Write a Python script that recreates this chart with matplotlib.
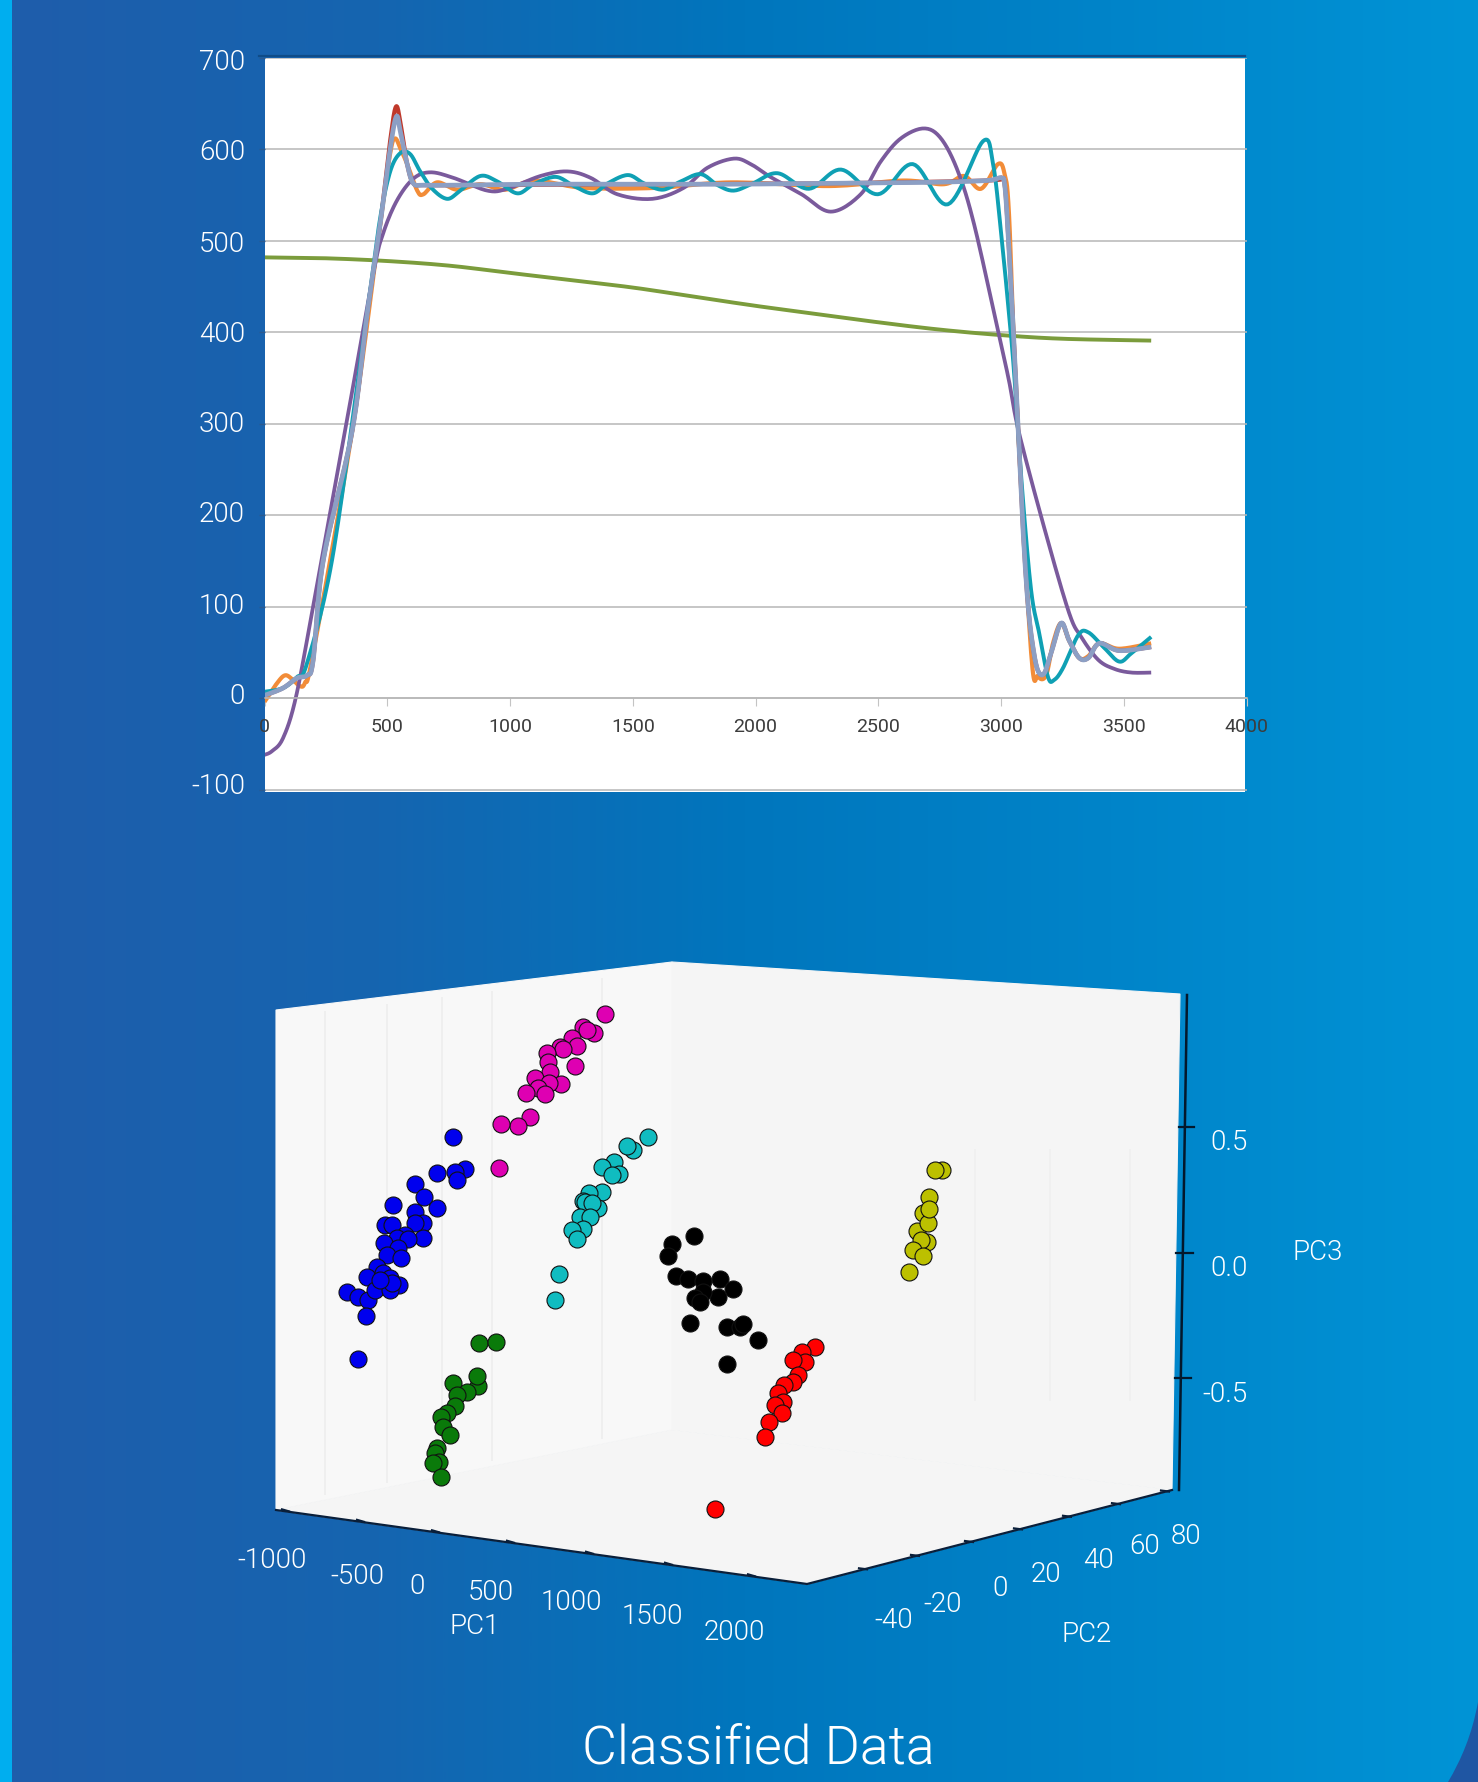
#!/usr/bin/env python3
"""Poster panel: smoothed response curves above a classified PCA scatter."""

import numpy as np
import matplotlib
matplotlib.use('Agg')
import matplotlib.pyplot as plt
from matplotlib.colors import LinearSegmentedColormap
from matplotlib.patches import PathPatch, Polygon, Rectangle
from matplotlib.path import Path

W, H = 1478, 1782

plt.rcParams['font.family'] = ['Roboto', 'Liberation Sans', 'DejaVu Sans']
plt.rcParams['axes.unicode_minus'] = False

# top chart
green_x = [0, 250, 500, 750, 1000, 1250, 1500, 1750, 2000, 2250, 2500, 2750, 3000, 3250, 3611]
green_y = [482, 481, 478, 473, 465, 457, 449, 439, 429, 420, 411, 403, 397, 393, 391]

purple_x = [0, 30, 75, 127, 198, 328, 443, 483, 539, 606, 675, 769, 907, 989, 1124, 1233, 1328, 1437,
            1580, 1707, 1804, 1911, 1980, 2060, 2187, 2306, 2428, 2510, 2591, 2685, 2755, 2824, 2890,
            2987, 3032, 3073, 3183, 3277, 3326, 3395, 3461, 3530, 3611]
purple_y = [-62, -58, -44, 0, 100, 292, 464, 508, 544, 568, 575, 569, 555, 557, 571, 576, 569, 551,
            546, 558, 580, 590, 584, 570, 551, 532, 551, 587, 612, 623, 612, 576, 518,
            402, 347, 290, 179, 93, 67, 42, 32, 28, 28]

steel_x = [0, 75, 132, 173, 198, 239, 357, 418, 471, 512, 537, 553, 581, 606, 650, 800, 1100, 1500, 1900,
           2300, 2700, 2940, 2999, 3015, 3030, 3050, 3070, 3090, 3110, 3130, 3150, 3175, 3203, 3244, 3277,
           3318, 3355, 3400, 3481, 3611]
steel_y = [3, 11, 22, 25, 41, 150, 292, 420, 518, 601, 636, 620, 584, 563, 561, 561, 562, 562, 562,
           563, 564, 566, 569, 560, 500, 400, 290, 180, 100, 55, 30, 27, 49, 82, 63,
           44, 44, 60, 52, 56]

orange_x = [0, 50, 84, 116, 145, 165, 198, 357, 471, 512, 532, 555, 581, 622, 647, 703, 785, 879, 980,
            1100, 1300, 1600, 1900, 2300, 2600, 2767, 2849, 2918, 2987, 3014, 3032, 3060, 3122, 3150,
            3183, 3211, 3244, 3277, 3318, 3355, 3400, 3481, 3611]
orange_y = [-4, 16, 25, 20, 13, 17, 49, 292, 518, 596, 612, 600, 584, 555, 551, 564, 556, 562, 556,
            566, 558, 558, 564, 560, 566, 562, 571, 557, 584, 573, 529, 340, 50, 24,
            25, 60, 82, 63, 44, 46, 60, 54, 60]

# red is almost entirely under the steel line, only its tip shows
red_x = [0, 75, 132, 173, 198, 239, 357, 418, 471, 512, 536, 556, 581, 606, 650, 800, 1500, 2300, 2940, 2999, 3015,
         3030, 3050, 3070, 3090, 3110, 3130, 3150, 3175, 3203, 3244, 3277, 3318, 3355, 3400, 3481, 3611]
red_y = [3, 11, 22, 25, 41, 150, 292, 420, 518, 610, 647, 625, 584, 563, 561, 561, 562, 563, 566, 569, 560,
         500, 400, 290, 180, 100, 55, 30, 27, 49, 82, 63, 44, 44, 60, 52, 56]

teal_x = [0, 75, 132, 173, 275, 389, 430, 471, 512, 553, 593, 634, 683, 744, 797, 879, 948, 1030, 1096,
          1186, 1260, 1337, 1398, 1480, 1545, 1622, 1695, 1776, 1845, 1911, 1990, 2090, 2217, 2348,
          2498, 2640, 2783, 2926, 2967, 2999, 3032, 3053, 3085, 3122, 3155, 3191, 3216, 3252, 3314, 3355,
          3420, 3481, 3530, 3611]
teal_y = [7, 11, 23, 38, 151, 365, 445, 525, 576, 596, 595, 576, 557, 546, 555, 571, 565, 552, 562,
          570, 560, 552, 563, 572, 563, 556, 565, 573, 561, 555, 563, 574, 557, 578,
          551, 584, 540, 609, 584, 511, 420, 355, 230, 118, 71, 23, 20, 33, 69, 72,
          55, 40, 49, 67]

x_ticks = [0, 500, 1000, 1500, 2000, 2500, 3000, 3500, 4000]
y_ticks = [-100, 0, 100, 200, 300, 400, 500, 600, 700]
y_tick_labels = ['-100', '0', '100', '200', '300', '400', '500', '600', '700']

# lower chart: cluster positions as seen in the projected view (image pixels)
magenta_x = [605, 583, 594, 587, 572, 577, 560, 563, 547, 548, 575, 550, 535, 561, 549, 538, 545, 526, 530, 518, 501, 499]
magenta_y = [1014, 1027, 1033, 1030, 1038, 1046, 1047, 1049, 1053, 1062, 1066, 1072, 1078, 1084, 1083, 1088, 1094, 1093, 1117, 1126, 1124, 1168]

blue_x = [453, 465, 455, 437, 457, 415, 424, 393, 437, 415, 423, 415, 385, 392, 405, 397, 423, 384, 408, 398, 387, 401,
          377, 367, 383, 390, 399, 347, 358, 368, 375, 390, 392, 380, 366, 358]
blue_y = [1137, 1169, 1172, 1173, 1180, 1184, 1197, 1205, 1208, 1212, 1223, 1223, 1225, 1225, 1235, 1238, 1238, 1243, 1239, 1248, 1255, 1258,
          1267, 1277, 1273, 1278, 1285, 1292, 1297, 1300, 1290, 1290, 1283, 1280, 1316, 1359]

cyan_x = [648, 633, 627, 614, 602, 619, 612, 602, 589, 583, 598, 585, 592, 580, 590, 583, 572, 577, 559, 555]
cyan_y = [1137, 1150, 1146, 1162, 1167, 1174, 1175, 1192, 1193, 1201, 1208, 1202, 1203, 1217, 1217, 1229, 1230, 1239, 1274, 1300]

dgreen_x = [479, 496, 478, 477, 453, 467, 457, 455, 447, 441, 443, 450, 437, 435, 439, 433, 441]
dgreen_y = [1343, 1342, 1386, 1376, 1383, 1392, 1395, 1406, 1413, 1417, 1427, 1435, 1448, 1453, 1462, 1463, 1477]

black_x = [694, 672, 668, 676, 688, 703, 720, 733, 718, 703, 695, 700, 690, 727, 740, 743, 758, 727]
black_y = [1236, 1244, 1256, 1276, 1279, 1281, 1279, 1289, 1297, 1292, 1298, 1302, 1323, 1327, 1327, 1324, 1340, 1364]

red_px = [715, 815, 802, 805, 793, 798, 793, 784, 778, 783, 775, 782, 769, 765]
red_py = [1509, 1347, 1352, 1362, 1360, 1375, 1382, 1385, 1393, 1402, 1405, 1413, 1422, 1437]

yellow_x = [942, 935, 917, 927, 923, 921, 913, 923, 928, 929, 929, 909]
yellow_y = [1170, 1170, 1231, 1242, 1213, 1240, 1250, 1256, 1223, 1197, 1209, 1272]

pc1_labels = ['-1000', '-500', '0', '500', '1000', '1500', '2000']
pc2_labels = ['-40', '-20', '0', '20', '40', '60', '80']
pc3_labels = ['-0.5', '0.0', '0.5']


def smooth(x, y, n=14):
    """Catmull-Rom through the read points, like a spreadsheet's smoothed line"""
    x, y = np.asarray(x, float), np.asarray(y, float)
    px = np.r_[x[0], x, x[-1]]
    py = np.r_[y[0], y, y[-1]]
    t = np.linspace(0, 1, n, endpoint=False)[:, None]
    out = []
    for arr in (px, py):
        p0, p1, p2, p3 = arr[:-3], arr[1:-2], arr[2:-1], arr[3:]
        seg = 0.5 * (2 * p1 + (p2 - p0) * t + (2 * p0 - 5 * p1 + 4 * p2 - p3) * t ** 2
                     + (3 * p1 - p0 - 3 * p2 + p3) * t ** 3)
        out.append(np.r_[seg.T.ravel(), arr[-2]])
    return out


fig = plt.figure(figsize=(W / 100, H / 100), dpi=100)

# whole-figure layer in image pixels
bg = fig.add_axes([0, 0, 1, 1])
bg.set_xlim(0, W)
bg.set_ylim(H, 0)
bg.axis('off')

cmap = LinearSegmentedColormap.from_list('poster', ['#1f5dab', '#1565b0', '#0076bd', '#0084c9', '#0094d6'])
bg.imshow(np.linspace(0, 1, 512)[None, :], cmap=cmap, extent=(12, W, H, 0), aspect='auto', zorder=0)
bg.axvspan(0, 12, color='#00aeef', lw=0, zorder=1)
corner = Path([(W, 1702), (1472, 1735), (1461, 1760), (1448, H), (W, H), (W, 1702)],
              [Path.MOVETO, Path.CURVE4, Path.CURVE4, Path.CURVE4, Path.LINETO, Path.CLOSEPOLY])
bg.add_patch(PathPatch(corner, facecolor='#1f56a3', edgecolor='none', zorder=1))

# white plot area of the top chart
bg.add_patch(Rectangle((265, 58), 980, 734, fc='white', ec='none', zorder=1))

# box of the 3D view
left_top, apex, right_top = (276, 1010), (672, 962), (1180, 994)
left_bot, back_bot, right_bot, front = (276, 1510), (672, 1430), (1172, 1490), (807, 1584)
bg.add_patch(Polygon([left_top, apex, back_bot, left_bot], fc='#f8f8f8', ec='#f8f8f8', lw=0.8, zorder=2))
bg.add_patch(Polygon([apex, right_top, right_bot, back_bot], fc='#f5f5f5', ec='#f5f5f5', lw=0.8, zorder=2))
bg.add_patch(Polygon([left_bot, back_bot, right_bot, front], fc='#f5f5f5', ec='#f5f5f5', lw=0.8, zorder=2))

# faint grid on the panes
for gx in [325, 387, 442, 492, 602]:
    bg.plot([gx, gx], [1010 - (gx - 276) * 0.121 + 8, 1510 - (gx - 276) * 0.202 - 6], color='#efefef', lw=1.4, zorder=3)
for gx in [975, 1050, 1130]:
    bg.plot([gx, gx], [1150, 1400], color='#f0f0f0', lw=1.4, zorder=3)

# 3D axis lines, ticks and labels
bg.plot(*zip(left_bot, front, right_bot), color='#0a1f3a', lw=1.6, zorder=4)
bg.plot([1187, 1179], [995, 1490], color='#04182c', lw=1.8, zorder=4)

pc1_tick_x = [286, 361, 436, 511, 590, 669, 752]
pc2_tick_x = [864, 916, 970, 1019, 1068, 1117, 1166]
for tx in pc1_tick_x:
    ty = 1510 + (tx - 276) * (1584 - 1510) / (807 - 276)
    bg.plot([tx - 4, tx + 3], [ty - 2, ty], color='#0a1f3a', lw=1.6, zorder=4)
for tx in pc2_tick_x:
    ty = 1584 + (tx - 807) * (1490 - 1584) / (1172 - 807)
    bg.plot([tx - 5, tx + 3], [ty - 1, ty], color='#0a1f3a', lw=1.6, zorder=4)
for (x0, x1, ty) in [(1175, 1191, 1378), (1176, 1193, 1253), (1179, 1194, 1127)]:
    bg.plot([x0, x1], [ty, ty], color='#04182c', lw=1.6, zorder=4)

LIGHT = 300
txt = dict(color='white', fontsize=20, weight=LIGHT, ha='center', va='center', zorder=6)
for label, lx, ly in zip(pc1_labels, [272, 357, 417, 491, 571, 652, 734], [1560, 1577, 1587, 1592, 1602, 1616, 1632]):
    bg.text(lx, ly, label, **txt)
for label, lx, ly in zip(pc2_labels, [894, 943, 1000, 1046, 1098, 1145, 1186], [1620, 1604, 1589, 1574, 1561, 1547, 1536]):
    bg.text(lx, ly, label, **txt)
for label, ly in zip(pc3_labels, [1394, 1268, 1142]):
    bg.text(1248, ly, label, color='white', fontsize=20, weight=LIGHT, ha='right', va='center', zorder=6)
bg.text(475, 1627, 'PC1', **txt)
bg.text(1087, 1634, 'PC2', **txt)
bg.text(1318, 1253, 'PC3', **txt)
bg.text(758, 1749, 'Classified Data', color='white', fontsize=38.6, weight=LIGHT, ha='center', va='center', zorder=6)

# y labels of the top chart sit a little off their ticks in the reference
for label, ly in zip(y_tick_labels, [787, 696, 606, 515, 424, 335, 244, 153, 63]):
    bg.text(245, ly, label, color='white', fontsize=20, weight=LIGHT, ha='right', va='center', zorder=6)

# clusters
clusters = [(magenta_x, magenta_y, '#de00b2'), (blue_x, blue_y, '#0000ee'), (cyan_x, cyan_y, '#10bcc0'),
            (dgreen_x, dgreen_y, '#0a7a0a'), (black_x, black_y, '#000000'), (red_px, red_py, '#ff0000'),
            (yellow_x, yellow_y, '#bcc000')]
for cx, cy, col in clusters:
    bg.scatter(cx, cy, s=150, c=col, edgecolors='#111111', linewidths=0.8, zorder=5)

bg.plot([259, 1245], [56, 56], color='#0f4c88', lw=1.6, zorder=2)

# top chart, transparent so the 4000 tick can sit just past the white area
left, right, top, bottom = 264.5, 1246.7, 58, 792
ax = fig.add_axes([left / W, 1 - bottom / H, (right - left) / W, (bottom - top) / H])
ax.patch.set_visible(False)
ax.set_xlim(0, 4000)
ax.set_ylim(-102.6, 699)

for s in ['top', 'right', 'left']:
    ax.spines[s].set_visible(False)
ax.spines['bottom'].set_position(('data', 0))
ax.spines['bottom'].set_color('#b8b8b8')
ax.spines['bottom'].set_linewidth(1.1)

ax.set_xticks(x_ticks)
ax.set_yticks(y_ticks)
ax.set_yticklabels([])
ax.tick_params(axis='x', length=6, width=0.8, color='#c4c4c4', labelsize=14, labelcolor='#3c3c3c', pad=8)
ax.tick_params(axis='y', length=4.5, width=1, color='#2a5a90')
ax.set_axisbelow(True)
ax.grid(True, axis='y', color='#b6b6b6', lw=1.1)

series = [(green_x, green_y, '#7b9c3c', 2.8), (orange_x, orange_y, '#f28c38', 3.0), (red_x, red_y, '#c0392b', 3.0),
          (purple_x, purple_y, '#7a5a9c', 2.7), (teal_x, teal_y, '#0fa0b4', 2.8), (steel_x, steel_y, '#8c9fc4', 3.4)]
for sx, sy, col, lw in series:
    ax.plot(*smooth(sx, sy), color=col, lw=lw, solid_capstyle='butt')

fig.savefig('out.png', dpi=100)
